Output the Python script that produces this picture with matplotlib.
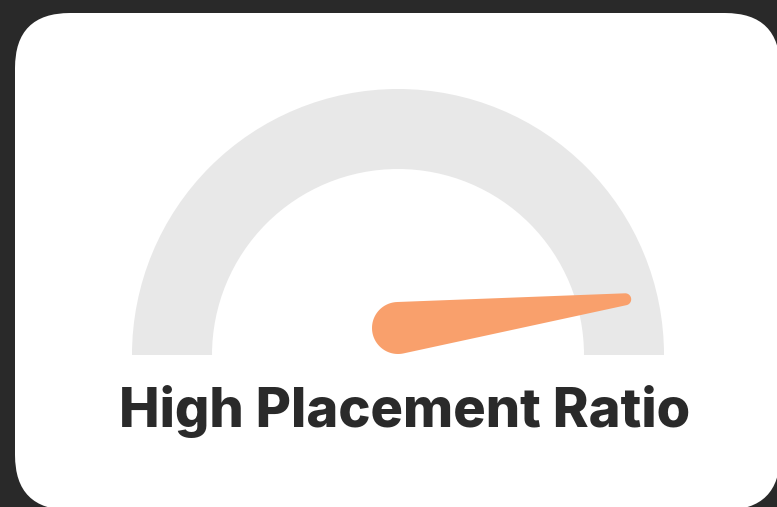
import numpy as np
import matplotlib.pyplot as plt
from matplotlib.patches import Wedge, FancyBboxPatch, Polygon

# ============================
# Data
# ============================
gauge_title = "High Placement Ratio"
gauge_min = 0.0
gauge_max = 1.0
gauge_value = 0.96

# ============================
# Styles
# ============================
BG = "#292929"
CARD = "#ffffff"
TRACK = "#e8e8e8"
NEEDLE = "#f9a06c"
TEXT = "#2a2a2a"

W, H = 777, 507


def needle_shape(c0, r0, c1, r1, n=60):
    # contorno de la aguja: dos circulos unidos por sus tangentes externas
    c0, c1 = np.asarray(c0, float), np.asarray(c1, float)
    d = np.hypot(*(c1 - c0))
    phi = np.arctan2(c1[1] - c0[1], c1[0] - c0[0])
    g = np.arccos((r0 - r1) / d)
    t_tip = np.linspace(phi - g, phi + g, n)
    t_base = np.linspace(phi + g, phi + 2 * np.pi - g, n)
    tip = np.column_stack([c1[0] + r1 * np.cos(t_tip), c1[1] + r1 * np.sin(t_tip)])
    base = np.column_stack([c0[0] + r0 * np.cos(t_base), c0[1] + r0 * np.sin(t_base)])
    return np.vstack([tip, base])


def main():
    fig = plt.figure(figsize=(W / 100, H / 100), dpi=100)
    fig.patch.set_facecolor(BG)
    ax = fig.add_axes([0, 0, 1, 1])
    ax.set_xlim(0, W)
    ax.set_ylim(0, H)
    ax.set_aspect("equal")
    ax.axis("off")

    # tarjeta blanca con esquinas redondeadas
    card = FancyBboxPatch((15, -3), 765, 497,
                          boxstyle="round,pad=0,rounding_size=55",
                          facecolor=CARD, edgecolor="none")
    ax.add_patch(card)

    # pista del medidor
    cx, cy = 398, H - 355
    ax.add_patch(Wedge((cx, cy), 266, 0, 180, width=80,
                       facecolor=TRACK, edgecolor="none"))

    # aguja
    frac = (gauge_value - gauge_min) / (gauge_max - gauge_min)
    ang = np.pi * (1 - frac)
    pivot = (cx, H - 328)
    length = 229
    tip = (pivot[0] + length * np.cos(ang), pivot[1] + length * np.sin(ang))
    ax.add_patch(Polygon(needle_shape(pivot, 26, tip, 6), closed=True,
                         facecolor=NEEDLE, edgecolor="none"))

    ax.text(405, H - 427, gauge_title, ha="center", va="baseline",
            fontsize=39, fontweight="heavy", family="Inter", color=TEXT)

    fig.savefig("out.png", dpi=100, facecolor=BG)


if __name__ == "__main__":
    main()
